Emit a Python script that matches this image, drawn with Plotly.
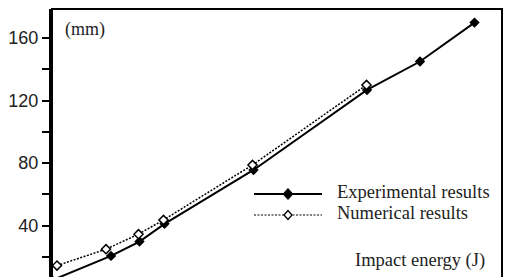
import plotly.graph_objects as go

# Data (impact energy in J, displacement in mm)
exp_energy = [0, 11.8, 17.5, 22.5, 40.3, 63.0, 73.6, 84.5]
exp_value = [5.0, 20.6, 29.8, 41.1, 75.6, 126.8, 145.0, 169.9]
num_energy = [1.0, 10.8, 17.3, 22.3, 40.1, 62.9]
num_value = [14.4, 24.9, 34.5, 43.6, 78.8, 130.0]

y_tickvals = [20, 40, 60, 80, 100, 120, 140, 160]
y_ticktext = ["", "40", "", "80", "", "120", "", "160"]

legend_names = ["Experimental results", "Numerical results"]

W, H = 523, 277
L, R, T, B = 52, 502, 9, 277


def px(x):
    return (x - L) / (R - L)


def py(y):
    return (B - y) / (B - T)


def diamond_path(cx, cy, hw, hh):
    pts = [(cx - hw, cy), (cx, cy - hh), (cx + hw, cy), (cx, cy + hh)]
    s = "M" + " L".join(f"{px(a):.5f},{py(b):.5f}" for a, b in pts) + " Z"
    return s


fig = go.Figure()

fig.add_trace(go.Scatter(
    x=exp_energy, y=exp_value, mode="lines+markers",
    line=dict(color="black", width=2),
    marker=dict(symbol="diamond", size=8, color="black"),
    showlegend=False,
))
fig.add_trace(go.Scatter(
    x=num_energy, y=num_value, mode="lines+markers",
    line=dict(color="black", width=1.5, dash="2px,1.5px"),
    marker=dict(symbol="diamond", size=7, color="white",
                line=dict(color="black", width=1.5)),
    showlegend=False,
))

fig.update_layout(
    width=W, height=H,
    margin=dict(l=L, r=W - R, t=T, b=0, pad=0),
    paper_bgcolor="white", plot_bgcolor="white",
    xaxis=dict(range=[0, 90], showgrid=False, zeroline=False,
               showline=False, showticklabels=False, ticks=""),
    yaxis=dict(range=[7.1, 178.6], showgrid=False, zeroline=False,
               showline=True, linecolor="black", linewidth=3,
               ticks="outside", ticklen=7, tickwidth=2, tickcolor="black",
               tickvals=y_tickvals, ticktext=y_ticktext,
               tickfont=dict(family="Liberation Sans, Arial", size=18,
                             color="#222")),
    shapes=[
        dict(type="rect", xref="paper", yref="paper", x0=0, x1=1,
             y0=-0.05, y1=1, fillcolor="rgba(0,0,0,0)",
             line=dict(color="black", width=2)),
        dict(type="line", xref="paper", yref="paper",
             x0=px(254), x1=px(322), y0=py(194), y1=py(194),
             line=dict(color="black", width=2)),
        dict(type="line", xref="paper", yref="paper",
             x0=px(254), x1=px(322), y0=py(215), y1=py(215),
             line=dict(color="black", width=1, dash="2px,1.5px")),
        dict(type="path", xref="paper", yref="paper",
             path=diamond_path(288, 194, 5, 5.5),
             fillcolor="black", line=dict(color="black", width=1)),
        dict(type="path", xref="paper", yref="paper",
             path=diamond_path(288, 215, 4, 4.5),
             fillcolor="white", line=dict(color="black", width=1.3)),
    ],
    annotations=[
        dict(text="(mm)", xref="paper", yref="paper", x=px(63), y=py(29),
             xanchor="left", yanchor="middle", showarrow=False,
             font=dict(family="Liberation Serif, Times New Roman", size=18,
                       color="#222")),
        dict(text=legend_names[0], xref="paper", yref="paper", x=px(335),
             y=py(192), xanchor="left", yanchor="middle", showarrow=False,
             font=dict(family="Liberation Serif, Times New Roman", size=18.5,
                       color="#222")),
        dict(text=legend_names[1], xref="paper", yref="paper", x=px(335),
             y=py(213), xanchor="left", yanchor="middle", showarrow=False,
             font=dict(family="Liberation Serif, Times New Roman", size=18.5,
                       color="#222")),
        dict(text="Impact energy (J)", xref="paper", yref="paper", x=px(487),
             y=py(260), xanchor="right", yanchor="middle", showarrow=False,
             font=dict(family="Liberation Serif, Times New Roman", size=18.5,
                       color="#222")),
    ],
)

fig.write_html("out.html",
               config={"displayModeBar": False},
               post_script="document.body.style.margin='0';")
